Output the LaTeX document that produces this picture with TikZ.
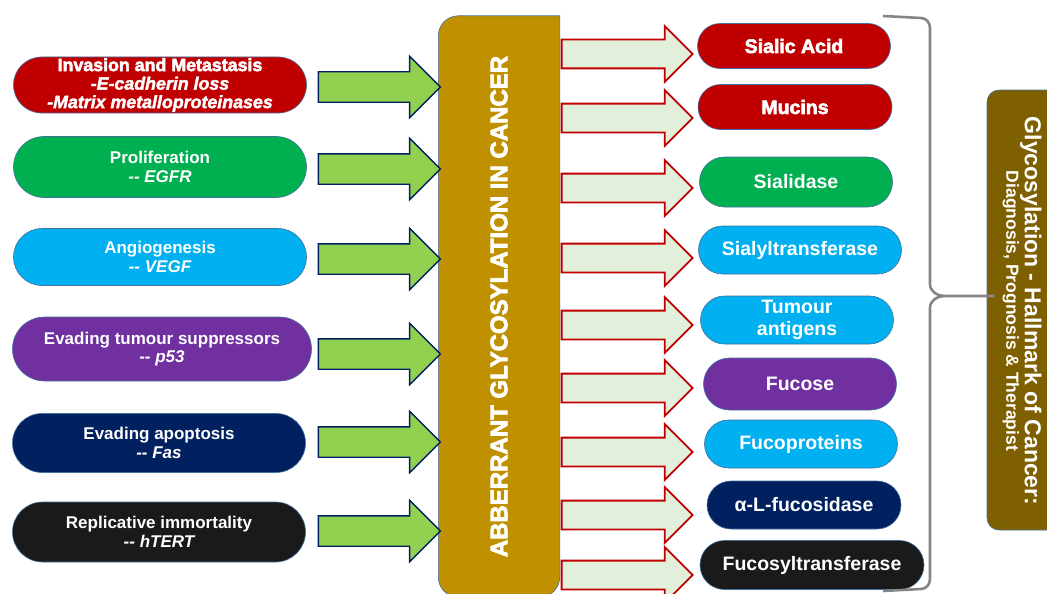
\documentclass[tikz,border=0pt]{standalone}
\usepackage{fontspec}
\setmainfont{Liberation Sans}
\newfontfamily\heavyfont[FakeBold=3]{Liberation Sans Bold}
\newfontfamily\heavyit[FakeBold=2]{Liberation Sans Bold Italic}
\usetikzlibrary{arrows.meta, positioning, shapes.misc, shapes.arrows}

\definecolor{hred}{HTML}{C00000}
\definecolor{hgreen}{HTML}{00B050}
\definecolor{hblue}{HTML}{00B0F0}
\definecolor{hpurple}{HTML}{7030A0}
\definecolor{hnavy}{HTML}{002060}
\definecolor{hblack}{HTML}{1A1A1A}
\definecolor{hgold}{HTML}{BF9000}
\definecolor{hbrown}{HTML}{7F6000}
\definecolor{hlime}{HTML}{92D050}
\definecolor{hpale}{HTML}{E2EFDA}
\definecolor{hedge}{HTML}{41719C}
\definecolor{hgray}{HTML}{858585}

\begin{document}
\begin{tikzpicture}[x=1pt, y=-1pt,
    pl/.style={rounded rectangle, draw=hedge, line width=0.6pt, text=white, align=center, inner sep=1pt, minimum width=295, minimum height=58, font=\fontsize{17}{18.5}\selectfont\bfseries},
    pr/.style={rounded rectangle, draw=hedge, line width=0.6pt, text=white, align=center, inner sep=1pt, minimum width=195, minimum height=47, font=\fontsize{19.5}{22}\selectfont\bfseries},
    ga/.style={single arrow, draw=hnavy, fill=hlime, line width=1.4pt, minimum width=60, minimum height=122, single arrow head extend=15.5, single arrow head indent=0pt, inner xsep=0pt, inner ysep=14.5pt, anchor=tip, xshift=3pt},
    ra/.style={single arrow, draw=hred, fill=hpale, line width=1.8pt, minimum width=54, minimum height=131, single arrow head extend=13.5, single arrow head indent=0pt, inner xsep=0pt, inner ysep=13.5pt, anchor=tail, xshift=1pt},
    brc/.style={draw=hgray, line width=2.6pt}
]
\useasboundingbox (0,0) rectangle (1047,594);

% hallmarks of cancer
\node[pl, fill=hred, minimum height=56, font=\fontsize{17.8}{18.5}\selectfont\bfseries] (inv) at (160,85)
  {{\heavyfont Invasion and Metastasis}\\ {\heavyit -E-cadherin loss}\\ {\heavyit -Matrix metalloproteinases}};
\node[pl, fill=hgreen, minimum height=61] (prolif) at (160,167) {Proliferation\\ \itshape -{}- EGFR};
\node[pl, fill=hblue, minimum height=57] (angio) at (160,257) {Angiogenesis\\ \itshape -{}- VEGF};
\node[pl, fill=hpurple, minimum width=301, minimum height=64] (supp) at (162,349) {Evading tumour suppressors\\ \itshape -{}- p53};
\node[pl, fill=hnavy, minimum height=59] (apop) at (159,443) {Evading apoptosis\\ \itshape -{}- Fas};
\node[pl, fill=hblack, minimum height=60] (immort) at (159,532) {Replicative immortality\\ \itshape -{}- hTERT};

% central block
\node[minimum width=121, minimum height=581, inner sep=0pt] (abr) at (499,306.5) {};
\draw[fill=hgold, draw=hedge, line width=0.6pt] (abr.north east) [rounded corners=20pt] -- (abr.north west)
  -- (abr.south west) -- (abr.south east) [sharp corners] -- cycle;
\node[rotate=90, text=white, font=\fontsize{24}{24}\selectfont\heavyfont] (abrtxt) at (abr.center) {ABBERRANT GLYCOSYLATION IN CANCER};

\node[ga] (g1) at (abr.west |- 0,87) {};
\node[ga] (g2) at (abr.west |- 0,169) {};
\node[ga] (g3) at (abr.west |- 0,259) {};
\node[ga] (g4) at (abr.west |- 0,354) {};
\node[ga] (g5) at (abr.west |- 0,442) {};
\node[ga] (g6) at (abr.west |- 0,531) {};

% glycan markers
\node[ra] (r1) at (abr.east |- 0,54) {};
\node[ra] (r2) at (abr.east |- 0,118) {};
\node[ra] (r3) at (abr.east |- 0,188) {};
\node[ra] (r4) at (abr.east |- 0,258) {};
\node[ra] (r5) at (abr.east |- 0,325) {};
\node[ra] (r6) at (abr.east |- 0,388) {};
\node[ra] (r7) at (abr.east |- 0,452) {};
\node[ra] (r8) at (abr.east |- 0,515) {};
\node[ra] (r9) at (abr.east |- 0,575) {};

\node[pr, fill=hred, minimum height=45] (sialic) at (794,46) {\heavyfont Sialic Acid};
\node[pr, fill=hred, minimum width=196, minimum height=45] (mucin) at (795,107) {\heavyfont Mucins};
\node[pr, fill=hgreen, minimum height=50] (sialid) at (796,182) {Sialidase};
\node[pr, fill=hblue, minimum width=205, minimum height=48] (sialtr) at (800,250) {Sialyltransferase};
\node[pr, fill=hblue, minimum height=48] (tumag) at (797,320) {Tumour\\ antigens};
\node[pr, fill=hpurple, minimum height=52] (fucose) at (800,384) {Fucose};
\node[pr, fill=hblue, minimum height=48] (fucopr) at (801,444) {Fucoproteins};
\node[pr, fill=hnavy, minimum width=196, minimum height=48] (afuc) at (804,505) {α-L-fucosidase};
\node[pr, fill=hblack, minimum width=226, minimum height=49] (fucotr) at (812,565) {Fucosyltransferase};

% brace and summary box
\node[rectangle, rounded corners=12pt, fill=hbrown, draw=hedge, line width=0.6pt, minimum width=80, minimum height=440] (hall) at (1027,310) {};
\node[rotate=-90, text=white, align=center, font=\bfseries] (halltxt) at (1022,311)
  {\fontsize{23}{23}\selectfont Glycosylation - Hallmark of Cancer:\\ \fontsize{17.5}{23}\selectfont Diagnosis, Prognosis \& Therapist};
\coordinate (brtip) at (944,296);
\draw[brc] (883,16) -- (921,18) to[out=0,in=90] (930,28) -- (930,284) to[out=-90,in=180] (brtip)
  -- ([xshift=8pt]brtip -| hall.west);
\draw[brc] (brtip) to[out=180,in=90] (930,308) -- (930,579) to[out=-90,in=0] (921,589) -- (883,591);
\end{tikzpicture}
\end{document}
